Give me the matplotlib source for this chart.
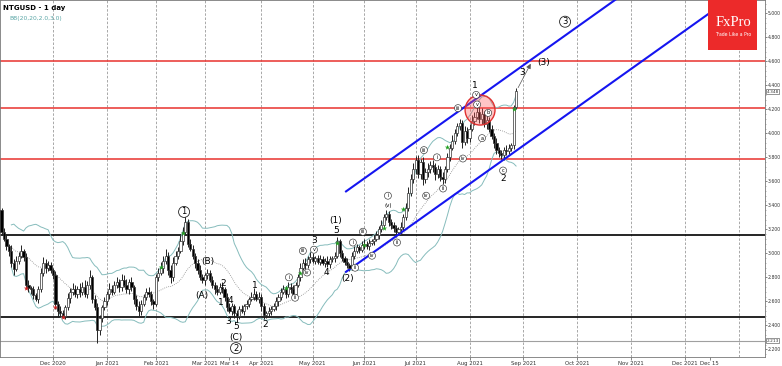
import numpy as np
import pandas as pd
import matplotlib
matplotlib.use('Agg')
import matplotlib.pyplot as plt
from matplotlib.patches import Ellipse, Rectangle

# daily closes (one per trading day)
close = [3.18,3.12,3.06,3.02,2.92,2.87,2.94,2.98,3.02,2.97,
         2.74,2.71,2.70,2.65,2.62,2.70,2.84,2.92,2.88,2.90,
         2.86,2.82,2.58,2.52,2.50,2.48,2.55,2.63,2.68,2.70,
         2.66,2.70,2.68,2.72,2.66,2.74,2.80,2.62,2.55,2.36,
         2.46,2.55,2.60,2.66,2.70,2.68,2.74,2.76,2.72,2.78,
         2.74,2.70,2.76,2.72,2.62,2.56,2.52,2.58,2.64,2.68,
         2.66,2.60,2.58,2.80,2.84,2.88,2.94,2.98,2.86,2.80,
         2.92,2.98,3.02,3.10,3.18,3.26,3.08,3.04,2.98,2.92,
         2.86,2.80,2.78,2.82,2.84,2.78,2.74,2.70,2.68,2.72,
         2.70,2.64,2.55,2.52,2.56,2.50,2.48,2.54,2.52,2.56,
         2.58,2.62,2.64,2.66,2.62,2.64,2.56,2.49,2.50,2.52,
         2.54,2.56,2.60,2.64,2.68,2.70,2.66,2.72,2.70,2.66,
         2.74,2.80,2.88,2.92,2.90,2.95,2.97,2.94,2.96,2.93,
         2.95,2.92,2.94,2.91,2.95,2.96,2.98,3.10,3.00,2.96,
         2.93,2.90,2.88,2.98,3.02,3.05,3.03,3.07,3.08,3.06,
         3.09,3.10,3.12,3.15,3.20,3.24,3.30,3.33,3.26,3.24,
         3.21,3.18,3.20,3.22,3.30,3.38,3.50,3.62,3.70,3.78,
         3.66,3.76,3.62,3.68,3.70,3.74,3.72,3.66,3.70,3.64,
         3.62,3.70,3.80,3.88,3.94,4.00,4.06,4.09,3.93,4.02,
         3.96,4.04,4.10,4.14,4.18,4.12,4.16,4.08,4.11,4.04,
         3.98,3.92,3.86,3.84,3.82,3.86,3.85,3.88,3.90,4.22,
         4.35]
first_open = 3.36

up_wick = [0.02,0.03,0.04,0.02,0.05,0.03,0.04,0.03,0.05,0.02,
           0.03,0.04,0.02,0.03,0.02,0.03,0.04,0.05,0.03,0.04,
           0.03,0.02,0.03,0.02,0.04,0.03,0.02,0.04,0.03,0.05,
           0.04,0.03,0.05,0.04,0.06,0.03,0.06,0.02,0.03,0.04,
           0.03,0.02,0.04,0.03,0.05,0.04,0.03,0.04,0.03,0.05,
           0.04,0.05,0.03,0.04,0.02,0.03,0.04,0.03,0.02,0.03,
           0.04,0.03,0.02,0.03,0.04,0.05,0.04,0.06,0.03,0.04,
           0.05,0.04,0.03,0.05,0.04,0.06,0.03,0.04,0.03,0.02,
           0.03,0.04,0.03,0.02,0.03,0.02,0.03,0.02,0.04,0.03,
           0.04,0.02,0.03,0.04,0.03,0.02,0.03,0.02,0.03,0.02,
           0.03,0.02,0.04,0.05,0.03,0.04,0.02,0.03,0.02,0.03,
           0.02,0.03,0.04,0.02,0.03,0.04,0.03,0.04,0.03,0.04,
           0.02,0.03,0.04,0.03,0.04,0.03,0.04,0.03,0.02,0.03,
           0.04,0.03,0.02,0.04,0.03,0.02,0.03,0.04,0.02,0.03,
           0.02,0.03,0.02,0.03,0.04,0.03,0.02,0.03,0.04,0.02,
           0.03,0.02,0.03,0.04,0.03,0.04,0.03,0.03,0.02,0.03,
           0.02,0.03,0.02,0.04,0.03,0.04,0.05,0.04,0.05,0.03,
           0.04,0.03,0.04,0.03,0.05,0.03,0.04,0.03,0.04,0.03,
           0.04,0.03,0.04,0.03,0.05,0.04,0.03,0.03,0.02,0.04,
           0.03,0.04,0.05,0.04,0.07,0.04,0.05,0.03,0.04,0.03,
           0.03,0.02,0.04,0.03,0.02,0.03,0.04,0.03,0.02,0.02,
           0.03]
dn_wick = [0.03,0.02,0.03,0.04,0.03,0.05,0.02,0.03,0.02,0.03,
           0.04,0.03,0.04,0.03,0.02,0.03,0.02,0.03,0.04,0.03,
           0.02,0.03,0.04,0.05,0.03,0.02,0.03,0.02,0.04,0.03,
           0.02,0.03,0.04,0.03,0.02,0.03,0.04,0.03,0.02,0.11,
           0.04,0.03,0.02,0.03,0.04,0.03,0.02,0.03,0.04,0.03,
           0.02,0.03,0.04,0.03,0.04,0.03,0.04,0.03,0.02,0.03,
           0.02,0.03,0.04,0.02,0.03,0.02,0.04,0.03,0.04,0.05,
           0.03,0.02,0.03,0.02,0.03,0.02,0.03,0.02,0.03,0.04,
           0.03,0.02,0.03,0.04,0.03,0.02,0.03,0.04,0.03,0.02,
           0.03,0.04,0.03,0.02,0.03,0.04,0.05,0.03,0.02,0.03,
           0.02,0.03,0.02,0.03,0.02,0.03,0.04,0.04,0.03,0.02,
           0.03,0.02,0.03,0.04,0.03,0.02,0.03,0.02,0.03,0.04,
           0.03,0.02,0.03,0.02,0.03,0.02,0.03,0.02,0.03,0.02,
           0.03,0.02,0.03,0.02,0.03,0.02,0.03,0.02,0.03,0.02,
           0.03,0.02,0.03,0.02,0.03,0.02,0.03,0.02,0.03,0.02,
           0.03,0.02,0.03,0.02,0.03,0.02,0.03,0.02,0.03,0.04,
           0.03,0.04,0.03,0.04,0.03,0.02,0.03,0.02,0.03,0.04,
           0.03,0.04,0.05,0.03,0.04,0.03,0.04,0.05,0.03,0.04,
           0.04,0.03,0.02,0.03,0.02,0.03,0.02,0.03,0.05,0.03,
           0.04,0.03,0.02,0.03,0.02,0.03,0.04,0.03,0.04,0.03,
           0.03,0.04,0.03,0.04,0.03,0.04,0.03,0.02,0.03,0.03,
           0.02]

# month ticks (candle index where the label sits)
tick_pos = [21, 43, 63, 83, 93, 106, 127, 148, 169, 191, 213, 235, 257, 279, 289]
tick_lab = ['Dec 2020', 'Jan 2021', 'Feb 2021', 'Mar 2021', 'Mar 14', 'Apr 2021', 'May 2021',
            'Jun 2021', 'Jul 2021', 'Aug 2021', 'Sep 2021', 'Oct 2021', 'Nov 2021', 'Dec 2021', 'Dec 15']
grid_pos = [21, 43, 63, 83, 106, 127, 148, 169, 191, 213, 235, 257, 279, 301]

red_levels = [4.60, 4.21, 3.79]
black_levels = [3.15, 2.47]
low_mark = 2.27
last_price = 4.348

green_stars = [(65, 2.89), (74, 3.17), (116, 2.71), (122, 2.84), (137, 3.09), (148, 3.07),
               (156, 3.21), (164, 3.37), (182, 3.89), (209, 4.20)]
red_stars = [(10, 2.71), (22, 2.55), (25, 2.47)]

# wave labels: plain, small circled, big circled
plain_labels = [('(B)', 84.3, 2.93), ('(A)', 81.8, 2.65), ('2', 90.4, 2.75), ('1', 89.6, 2.59),
                ('4', 93.2, 2.61), ('3', 92.4, 2.43), ('5', 95.7, 2.39), ('(C)', 95.7, 2.30),
                ('1', 103.4, 2.73), ('2', 107.5, 2.41), ('3', 127.5, 3.11), ('4', 132.4, 2.84),
                ('5', 136.5, 3.19), ('(1)', 136.5, 3.27), ('(2)', 141.4, 2.79), ('1', 193.2, 4.40),
                ('2', 204.7, 3.62), ('3', 212.5, 4.51), ('(3)', 221.4, 4.59)]
small_labels = [('i', 117.3, 2.80), ('ii', 119.8, 2.63), ('iii', 123.0, 3.02), ('iv', 124.7, 2.84),
                ('v', 127.5, 3.03), ('i', 143.4, 3.09), ('iii', 147.5, 3.18), ('iv', 151.2, 2.98),
                ('ii', 144.3, 2.88), ('i', 157.7, 3.48), ('ii', 161.4, 3.09), ('iv', 173.3, 3.48),
                ('iii', 172.4, 3.86), ('i', 177.7, 3.80), ('ii', 180.2, 3.54), ('iii', 186.3, 4.21),
                ('iv', 188.3, 3.79), ('v', 193.7, 4.32), ('v', 194.1, 4.24), ('a', 196.1, 3.96),
                ('b', 198.6, 4.17), ('c', 204.7, 3.69)]
small_paren = [('(v)', 157.7, 3.40)]
big_labels = [('1', 74.5, 3.345), ('2', 95.7, 2.21), ('3', 230.0, 4.93)]

n = len(close)
idx = np.arange(n)
opens = [first_open] + close[:-1]
highs = [max(o, c) + u for o, c, u in zip(opens, close, up_wick)]
lows = [min(o, c) - d for o, c, d in zip(opens, close, dn_wick)]

fig = plt.figure(figsize=(7.82, 3.66), dpi=100)
ax = fig.add_axes([0, 9/366, 765/782, 357/366])
ax.set_xlim(-0.63, 311.6)
ax.set_ylim(2.136, 5.111)

for g in grid_pos:
    ax.axvline(g, color='#9a9a9a', lw=0.6, ls=(0, (3, 2)), zorder=0)

for lv in red_levels:
    ax.axhline(lv, color='#e8322e', lw=1.1, zorder=1)
for lv in black_levels:
    ax.axhline(lv, color='black', lw=1.2, zorder=1)
ax.axhline(low_mark, color='#a0a0a0', lw=0.8, zorder=1)

# bollinger bands
s = pd.Series(close)
mid = s.rolling(20, min_periods=5).mean()
sd = s.rolling(20, min_periods=5).std(ddof=0)
ax.plot(idx, mid + 2*sd, color='#86bcbc', lw=0.7, zorder=2)
ax.plot(idx, mid - 2*sd, color='#86bcbc', lw=0.7, zorder=2)
ax.plot(idx, mid, color='#8a8a8a', lw=0.6, ls=(0, (1, 1.5)), zorder=2)

# candles
ax.vlines(idx, lows, highs, color='#222222', lw=0.7, zorder=3)
bull = [c >= o for o, c in zip(opens, close)]
body = [c - o for o, c in zip(opens, close)]
ax.bar(idx, body, bottom=opens, width=0.9,
       color=['white' if b else 'black' for b in bull],
       edgecolor='#333333', linewidth=0.5, zorder=4)

ax.scatter([p[0] for p in green_stars], [p[1] for p in green_stars], marker='*', s=16,
           color='#22a022', zorder=5, linewidths=0)
ax.scatter([p[0] for p in red_stars], [p[1] for p in red_stars], marker='*', s=16,
           color='#d02020', zorder=5, linewidths=0)

# channel
slope = 0.01453
xs = np.array([140.6, 320])
ax.plot(xs, 2.846 + slope*(xs - 140.6), color='#1515f0', lw=1.5, zorder=3)
ax.plot(xs, 3.516 + slope*(xs - 140.6), color='#1515f0', lw=1.5, zorder=3)

ax.add_patch(Ellipse((195.3, 4.194), 12.2, 0.25, fc=(1, 0.35, 0.35, 0.35),
                     ec='#e03030', lw=1, zorder=6))

ax.annotate('', xy=(216.5, 4.60), xytext=(210.3, 4.36),
            arrowprops=dict(arrowstyle='-|>', color='#555555', lw=0.5, mutation_scale=7), zorder=6)

for t, x, y in plain_labels:
    ax.text(x, y, t, ha='center', va='center', fontsize=6.5, zorder=7)
for t, x, y in small_labels:
    ax.text(x, y, t, ha='center', va='center', fontsize=3.6, zorder=7,
            bbox=dict(boxstyle='circle,pad=0.2', fc='white', ec='#333333', lw=0.45))
for t, x, y in small_paren:
    ax.text(x, y, t, ha='center', va='center', fontsize=4, zorder=7)
for t, x, y in big_labels:
    ax.text(x, y, t, ha='center', va='center', fontsize=6, zorder=7,
            bbox=dict(boxstyle='circle,pad=0.12', fc='white', ec='#222222', lw=0.6))

# axes styling
ax.set_xticks(tick_pos)
ax.set_xticklabels(tick_lab, fontsize=3.9, color='#333333')
ax.tick_params(axis='x', length=2, width=0.5, pad=1, colors='#555555', labelcolor='#333333')
ax.yaxis.tick_right()
yt = np.arange(2.2, 5.01, 0.2)
ax.set_yticks(yt)
ax.set_yticklabels(['%.3f' % v for v in yt], fontsize=3.3, color='#333333')
ax.set_yticks(np.arange(2.16, 5.11, 0.04), minor=True)
ax.tick_params(axis='y', which='major', length=1.5, width=0.5, pad=0.3, colors='#555555', labelcolor='#333333')
ax.tick_params(axis='y', which='minor', length=1.0, width=0.4, colors='#777777')
for sp in ax.spines.values():
    sp.set_color('#777777')
    sp.set_linewidth(0.6)

ax.text(1.002, (last_price - 2.136)/(5.111 - 2.136), '%.3f' % last_price, transform=ax.transAxes,
        fontsize=3.1, va='center', ha='left', color='#333333',
        bbox=dict(boxstyle='square,pad=0.1', fc='white', ec='#444444', lw=0.4), clip_on=False)
ax.text(1.002, (low_mark - 2.136)/(5.111 - 2.136), '2.213', transform=ax.transAxes,
        fontsize=3.1, va='center', ha='left', color='#333333',
        bbox=dict(boxstyle='square,pad=0.1', fc='white', ec='#444444', lw=0.4), clip_on=False)

ax.text(0.004, 0.985, 'NTGUSD - 1 day', transform=ax.transAxes, fontsize=5, fontweight='bold',
        va='top', ha='left')
ax.text(0.012, 0.955, 'BB(20,20,2.0,3.0)', transform=ax.transAxes, fontsize=4.3,
        color='#5aa6a6', va='top', ha='left')

# logo
ax.add_patch(Rectangle((708/765, 1 - 50/357), 49/765, 50/357, transform=ax.transAxes,
                       fc='#ec2a2a', ec='none', zorder=10))
ax.text(733/765, 1 - 23/357, 'FxPro', transform=ax.transAxes, fontsize=10.5, color='white',
        family='Liberation Serif', ha='center', va='center', zorder=11)
ax.text(733/765, 1 - 35/357, 'Trade Like a Pro', transform=ax.transAxes, fontsize=3.3,
        color='white', ha='center', va='center', zorder=11)

fig.savefig('out.png', dpi=100)
